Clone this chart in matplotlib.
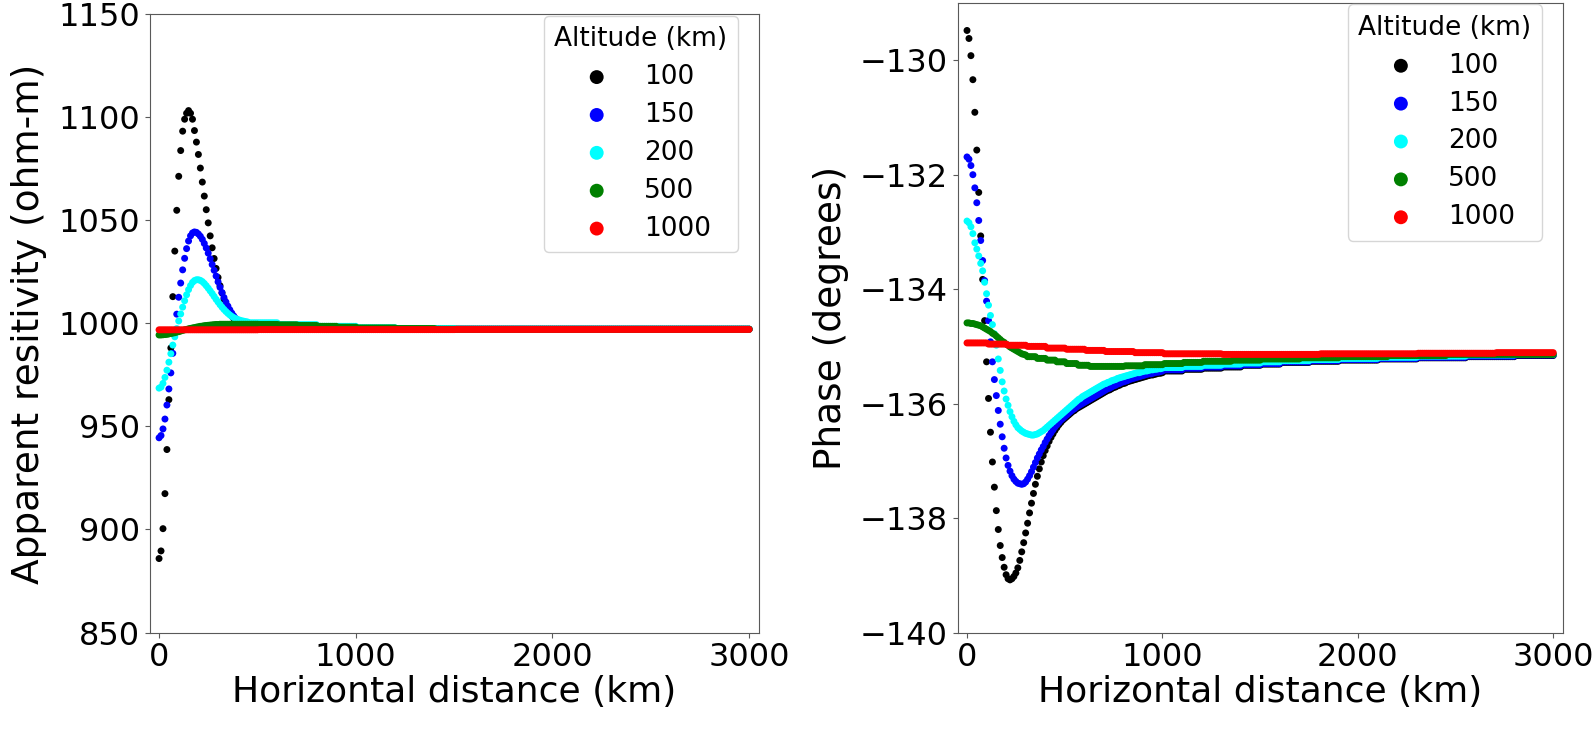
import numpy as np
import matplotlib.pyplot as plt

# -------------------------------
# Datos
# -------------------------------
# Distancia horizontal (km): una muestra cada 10 km
distancia_km = np.arange(0, 3001, 10)

altitudes = ['100', '150', '200', '500', '1000']
colores = ['black', 'blue', 'cyan', 'green', 'red']

# Resistividad aparente (ohm-m) por altitud
rho_100 = [885.9, 889.6, 900.4, 917.4, 938.8, 963.0, 988.1, 1013.0, 1035.1, 1054.9,
           1071.4, 1083.9, 1093.3, 1099.1, 1102.0, 1103.3, 1102.0, 1099.1, 1093.6, 1088.0,
           1082.0, 1075.4, 1068.6, 1061.8, 1055.2, 1048.8, 1042.5, 1036.7, 1031.5, 1026.7,
           1022.3, 1018.3, 1014.8, 1011.7, 1009.0, 1006.8, 1005.0, 1003.5, 1002.3, 1001.3,
           1000.5, 999.9, 999.4, 999.0, 998.7, 998.5] \
    + [998.3] * 10 + [998.0] * 15 + [997.7] * 20 + [997.4] * 30 + [997.2] * 180

rho_150 = [944.5, 945.6, 948.8, 953.6, 960.4, 968.2, 976.0, 985.5, 995.0, 1004.5,
           1012.7, 1019.6, 1026.0, 1031.6, 1036.3, 1040.0, 1042.5, 1043.9, 1044.4, 1044.2,
           1043.4, 1042.3, 1040.8, 1038.8, 1036.6, 1034.1, 1031.4, 1028.6, 1025.8, 1023.0,
           1020.2, 1017.5, 1015.0, 1012.6, 1010.4, 1008.4, 1006.6, 1005.0, 1003.6, 1002.4,
           1001.4, 1000.6, 1000.0, 999.5, 999.1, 998.8] \
    + [998.5] * 10 + [998.1] * 15 + [997.7] * 20 + [997.4] * 30 + [997.2] * 180

rho_200 = [968.6, 969.1, 970.9, 973.8, 977.3, 981.2, 985.3, 989.5, 993.5, 997.5,
           1001.2, 1004.6, 1007.9, 1011.0, 1013.9, 1016.4, 1018.4, 1019.9, 1020.8, 1021.2,
           1021.2, 1020.9, 1020.3, 1019.4, 1018.3, 1017.1, 1015.8, 1014.5, 1013.1, 1011.7,
           1010.4, 1009.1, 1007.9, 1006.8, 1005.8, 1004.9, 1004.1, 1003.4, 1002.8, 1002.3,
           1001.9, 1001.6, 1001.3, 1001.1, 1000.9, 1000.7] \
    + [1000.3] * 15 + [999.4] * 20 + [998.6] * 20 + [997.9] * 20 + [997.5] * 30 + [997.2] * 150

rho_500 = [994.4, 994.4, 994.5, 994.6, 994.7, 994.9, 995.1, 995.3, 995.5, 995.8,
           996.0, 996.3, 996.6, 996.9, 997.1, 997.4, 997.6, 997.8, 998.0, 998.2,
           998.4, 998.6, 998.7, 998.9, 999.0, 999.1, 999.2, 999.3, 999.4, 999.5,
           999.5] \
    + [999.6] * 20 + [999.5] * 10 + [999.3] * 10 + [999.0] * 10 + [998.6] * 10 \
    + [998.2] * 10 + [997.8] * 20 + [997.5] * 20 + [997.2] * 160

rho_1000 = [996.9] * 51 + [997.0] * 100 + [997.1] * 150

# Fase (grados) por altitud
fase_100 = [-129.48, -129.62, -129.92, -130.34, -130.91, -131.57, -132.31, -133.07, -133.83, -134.55,
            -135.27, -135.91, -136.50, -137.02, -137.46, -137.87, -138.20, -138.48, -138.69, -138.86,
            -138.99, -139.06, -139.08, -139.06, -139.02, -138.96, -138.87, -138.74, -138.59, -138.43,
            -138.26, -138.09, -137.91, -137.74, -137.57, -137.41, -137.27, -137.14, -137.02, -136.91,
            -136.82, -136.74, -136.66, -136.59, -136.53, -136.47, -136.42, -136.37, -136.33, -136.29,
            -136.26, -136.23, -136.20, -136.17, -136.14, -136.12, -136.09, -136.07, -136.05, -136.03,
            -136.01, -135.99, -135.97, -135.95, -135.93, -135.91, -135.89, -135.87, -135.85, -135.83,
            -135.81, -135.79, -135.77, -135.76, -135.74, -135.72, -135.71, -135.69, -135.68, -135.66,
            -135.65, -135.64, -135.62, -135.61, -135.60, -135.59, -135.58, -135.57, -135.56, -135.55,
            -135.54, -135.53, -135.52, -135.51, -135.50, -135.50, -135.49, -135.48, -135.47, -135.47,
            -135.46] \
    + [-135.43] * 10 + [-135.40] * 10 + [-135.38] * 10 + [-135.36] * 10 + [-135.33] * 10 \
    + [-135.31] * 10 + [-135.28] * 15 + [-135.26] * 15 + [-135.24] * 20 + [-135.22] * 20 \
    + [-135.20] * 25 + [-135.18] * 25 + [-135.16] * 20

fase_150 = [-131.69, -131.73, -131.84, -132.00, -132.23, -132.49, -132.80, -133.15, -133.50, -133.85,
            -134.21, -134.55, -134.92, -135.27, -135.58, -135.86, -136.12, -136.36, -136.58, -136.78,
            -136.95, -137.08, -137.18, -137.26, -137.32, -137.36, -137.39, -137.40, -137.41, -137.40,
            -137.37, -137.32, -137.26, -137.19, -137.11, -137.03, -136.95, -136.88, -136.81, -136.75,
            -136.68, -136.62, -136.56, -136.51, -136.46, -136.41, -136.37, -136.33, -136.29, -136.26,
            -136.23, -136.20, -136.17, -136.14, -136.11, -136.09, -136.06, -136.04, -136.02, -136.00,
            -135.98, -135.96, -135.94, -135.92, -135.90, -135.88, -135.86, -135.84, -135.82, -135.80,
            -135.78, -135.76, -135.74, -135.73, -135.71, -135.69, -135.68, -135.66, -135.65, -135.63,
            -135.62, -135.61, -135.60, -135.58, -135.57, -135.56, -135.55, -135.54, -135.53, -135.52,
            -135.51, -135.50, -135.49, -135.48, -135.48, -135.47, -135.46, -135.45, -135.45, -135.44,
            -135.43] \
    + [-135.41] * 10 + [-135.38] * 10 + [-135.36] * 10 + [-135.34] * 10 + [-135.32] * 10 \
    + [-135.30] * 10 + [-135.27] * 15 + [-135.25] * 15 + [-135.23] * 20 + [-135.21] * 20 \
    + [-135.19] * 25 + [-135.17] * 25 + [-135.15] * 20

fase_200 = [-132.81, -132.84, -132.91, -133.03, -133.19, -133.30, -133.42, -133.55, -133.68, -133.88,
            -134.08, -134.28, -134.46, -134.62, -134.78, -134.98, -135.22, -135.42, -135.62, -135.78,
            -135.92, -136.03, -136.14, -136.23, -136.31, -136.37, -136.42, -136.45, -136.48, -136.50,
            -136.52, -136.53, -136.54, -136.55, -136.55, -136.54, -136.53, -136.51, -136.49, -136.47,
            -136.44, -136.41, -136.38, -136.35, -136.32, -136.29, -136.26, -136.23, -136.20, -136.17,
            -136.14, -136.11, -136.08, -136.05, -136.02, -135.99, -135.96, -135.93, -135.91, -135.88,
            -135.86, -135.84, -135.82, -135.80, -135.78, -135.76, -135.74, -135.72, -135.70, -135.68,
            -135.66, -135.65, -135.63, -135.62, -135.60, -135.59, -135.58, -135.56, -135.55, -135.54,
            -135.53, -135.52, -135.51, -135.50, -135.49, -135.48, -135.47, -135.46, -135.46, -135.45,
            -135.44, -135.43, -135.43, -135.42, -135.41, -135.41, -135.40, -135.40, -135.39, -135.39,
            -135.38] \
    + [-135.37] * 10 + [-135.35] * 10 + [-135.33] * 10 + [-135.31] * 10 + [-135.29] * 10 \
    + [-135.27] * 10 + [-135.25] * 15 + [-135.23] * 15 + [-135.21] * 20 + [-135.19] * 20 \
    + [-135.17] * 25 + [-135.15] * 25 + [-135.14] * 20

fase_500 = [-134.59, -134.59, -134.60, -134.60, -134.61, -134.62, -134.63, -134.64, -134.66, -134.68,
            -134.70, -134.72, -134.74, -134.77, -134.79, -134.82, -134.85, -134.88, -134.91, -134.93,
            -134.96, -134.98, -135.01, -135.03, -135.05, -135.07, -135.09, -135.11, -135.13, -135.14,
            -135.15] \
    + [-135.18] * 5 + [-135.21] * 5 + [-135.24] * 5 + [-135.27] * 5 + [-135.30] * 6 \
    + [-135.33] * 6 + [-135.35] * 18 + [-135.34] * 10 + [-135.32] * 10 + [-135.30] * 10 \
    + [-135.28] * 10 + [-135.26] * 15 + [-135.24] * 15 + [-135.22] * 20 + [-135.20] * 20 \
    + [-135.18] * 25 + [-135.16] * 30 + [-135.14] * 55

fase_1000 = [-134.94] * 11 + [-134.96] * 10 + [-134.98] * 10 + [-135.00] * 10 + [-135.03] * 10 \
    + [-135.05] * 10 + [-135.07] * 10 + [-135.09] * 15 + [-135.11] * 15 + [-135.13] * 30 \
    + [-135.14] * 50 + [-135.13] * 50 + [-135.12] * 40 + [-135.11] * 30

resistividad = [rho_100, rho_150, rho_200, rho_500, rho_1000]
fase = [fase_100, fase_150, fase_200, fase_500, fase_1000]

for serie in resistividad + fase:
    assert len(serie) == len(distancia_km), len(serie)

# -------------------------------
# Figura
# -------------------------------
fig = plt.figure(figsize=(15.95, 7.32), dpi=100)
ax1 = fig.add_axes([0.0938, 0.1359, 0.3818, 0.8445])
ax2 = fig.add_axes([0.6004, 0.1359, 0.3793, 0.8600])

color_borde = '0.35'

def dibujar(ax, series, ylabel, yticks, ylim):
    for valores, color, etiqueta in zip(series, colores, altitudes):
        ax.scatter(distancia_km, valores, s=25, color=color, label=etiqueta,
                   edgecolors='none')
    ax.set_xlim(-48, 3048)
    ax.set_ylim(*ylim)
    ax.set_xticks([0, 1000, 2000, 3000])
    ax.set_yticks(yticks)
    ax.tick_params(labelsize=23, color=color_borde)
    ax.set_xlabel('Horizontal distance (km)', fontsize=26, labelpad=1)
    ax.set_ylabel(ylabel, fontsize=27, labelpad=8)
    for spine in ax.spines.values():
        spine.set_color(color_borde)
    ax.legend(title='Altitude (km)', loc='upper right', bbox_to_anchor=(0.966, 0.998),
              borderaxespad=0, fontsize=19, title_fontsize=19, markerscale=2,
              labelspacing=0.45)

dibujar(ax1, resistividad, 'Apparent resitivity (ohm-m)',
        [850, 900, 950, 1000, 1050, 1100, 1150], (850, 1150))
dibujar(ax2, fase, 'Phase (degrees)',
        [-140, -138, -136, -134, -132, -130], (-140, -129.0))

fig.savefig('out.png', dpi=100)
